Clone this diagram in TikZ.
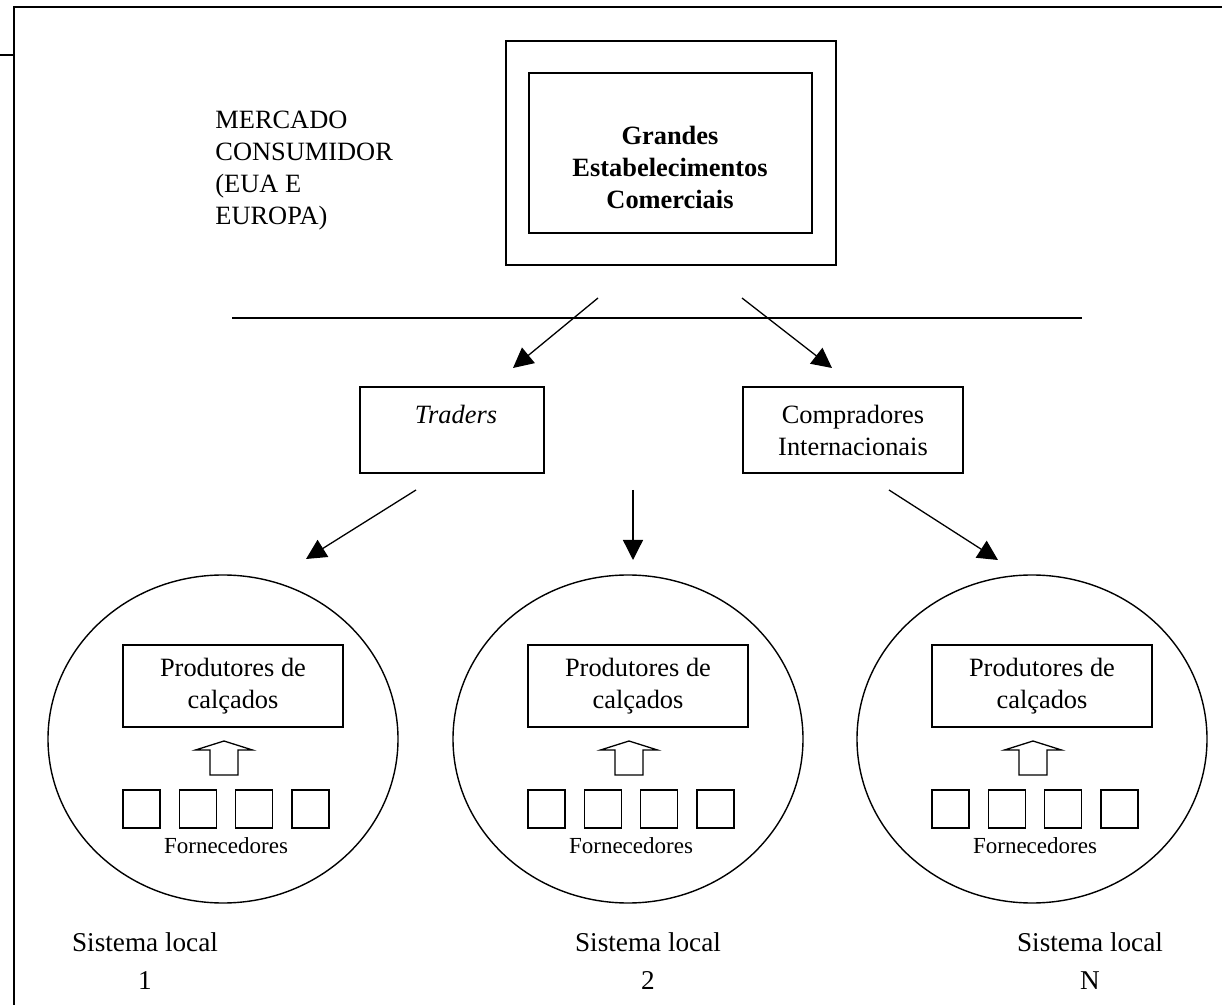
\documentclass[tikz,border=0pt]{standalone}
\usepackage{fontspec}
\setmainfont{Liberation Serif}
\usetikzlibrary{shapes.geometric,arrows.meta,positioning}

\begin{document}
\begin{tikzpicture}[
    x=0.5pt, y=-0.5pt,
    txt/.style={inner sep=0pt, align=center, font=\fontsize{13.2}{16}\selectfont},
    box/.style={draw, line width=0.65pt, inner sep=0pt, align=center, font=\fontsize{13.2}{16}\selectfont},
    sistema/.style={draw, ellipse, line width=0.7pt, minimum width=175pt, minimum height=164pt, inner sep=0pt},
    forn/.style={draw, line width=0.65pt, minimum width=18.5pt, minimum height=19pt, inner sep=0pt},
    small/.style={inner sep=0pt, font=\fontsize{11.5}{14}\selectfont},
    lbl/.style={inner sep=0pt, align=center, font=\fontsize{13.6}{19}\selectfont},
    arrow/.style={-{Triangle[length=10pt,width=10pt]}, line width=0.65pt},
    blk/.style={draw, line width=0.65pt},
    frame/.style={line width=1pt},
]
    \useasboundingbox (0,0) rectangle (1222,1005);
    \draw[frame] (0,55) -- (14,55);
    \draw[frame] (14,1005) -- (14,7) -- (1222,7);

    \node[txt, anchor=west, align=left] (mercado) at (215,171) {MERCADO\\CONSUMIDOR\\(EUA E\\EUROPA)};
    \node[box, line width=0.8pt, minimum width=165pt, minimum height=112pt] (outer) at (671,153) {};
    \node[box, line width=0.8pt, minimum width=141.5pt, minimum height=80pt] (inner) at (670.5,153) {};
    \node[txt, font=\fontsize{13.2}{16}\selectfont\bfseries] (grandes) at (670,167) {Grandes\\Estabelecimentos\\Comerciais};

    \draw[line width=0.65pt] (232,318) -- (1082,318);

    \node[box, minimum width=92pt, minimum height=43pt] (traders) at (452,430) {};
    \node[txt, font=\fontsize{13.2}{16}\selectfont\itshape] (traderstxt) at (456,414) {Traders};
    \node[box, minimum width=110pt, minimum height=43pt] (compradores) at (853,430) {Compradores\\Internacionais};

    \coordinate (o1) at (598,298); \coordinate (t1) at (513,368);
    \coordinate (o2) at (742,298); \coordinate (c1) at (832,368);
    \coordinate (t2) at (416,490); \coordinate (s1) at (306,559);
    \coordinate (t3) at (633,490); \coordinate (s2) at (633,560);
    \coordinate (c2) at (889,490); \coordinate (s3) at (998,560);

    \draw[arrow] (o1) -- (t1);
    \draw[arrow] (o2) -- (c1);
    \draw[arrow] (t2) -- (s1);
    \draw[arrow] (t3) -- (s2);
    \draw[arrow] (c2) -- (s3);

    \node[sistema] (sis1) at (223,739) {};
    \node[box, minimum width=110pt, minimum height=41pt] (prod1) at (233,686) {Produtores de\\calçados};
    \draw[blk, shift={(224,0)}] (-14,775) -- (-14,750) -- (-28.5,750) -- (0,741) -- (28.5,750) -- (14,750) -- (14,775) -- cycle;
    \node[forn] (f11) at (141.5,809) {};
    \node[forn, right=9pt of f11] (f12) {};
    \node[forn, right=9pt of f12] (f13) {};
    \node[forn, right=9pt of f13] (f14) {};
    \node[small] (forn1) at (226,846) {Fornecedores};
    \node[lbl] (lab1) at (145,961) {Sistema local\\1};

    \node[sistema] (sis2) at (628,739) {};
    \node[box, minimum width=110pt, minimum height=41pt] (prod2) at (638,686) {Produtores de\\calçados};
    \draw[blk, shift={(629,0)}] (-14,775) -- (-14,750) -- (-28.5,750) -- (0,741) -- (28.5,750) -- (14,750) -- (14,775) -- cycle;
    \node[forn] (f21) at (546.5,809) {};
    \node[forn, right=9pt of f21] (f22) {};
    \node[forn, right=9pt of f22] (f23) {};
    \node[forn, right=9pt of f23] (f24) {};
    \node[small] (forn2) at (631,846) {Fornecedores};
    \node[lbl] (lab2) at (648,961) {Sistema local\\2};

    \node[sistema] (sis3) at (1032,739) {};
    \node[box, minimum width=110pt, minimum height=41pt] (prod3) at (1042,686) {Produtores de\\calçados};
    \draw[blk, shift={(1033,0)}] (-14,775) -- (-14,750) -- (-28.5,750) -- (0,741) -- (28.5,750) -- (14,750) -- (14,775) -- cycle;
    \node[forn] (f31) at (950.5,809) {};
    \node[forn, right=9pt of f31] (f32) {};
    \node[forn, right=9pt of f32] (f33) {};
    \node[forn, right=9pt of f33] (f34) {};
    \node[small] (forn3) at (1035,846) {Fornecedores};
    \node[lbl] (lab3) at (1090,961) {Sistema local\\N};
\end{tikzpicture}
\end{document}
